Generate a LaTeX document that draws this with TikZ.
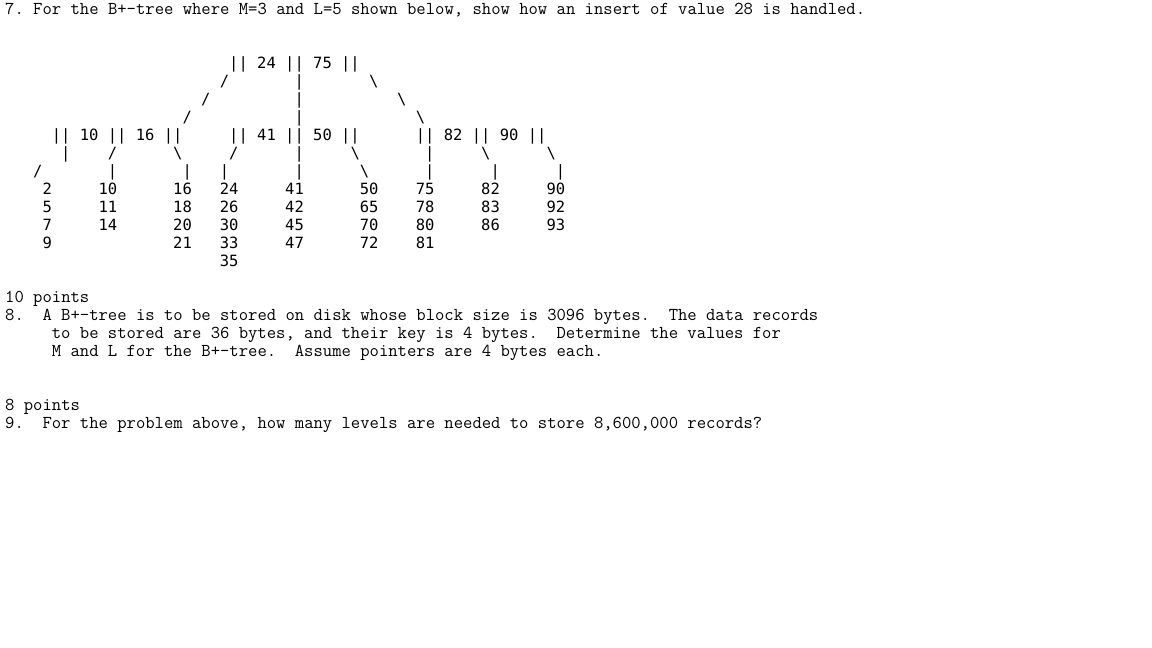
\documentclass[tikz,border=0pt]{standalone}
\usepackage{fontspec}
\newfontfamily\treefont{DejaVu Sans Mono}
\newcommand{\colW}[0]{9.333pt}
\newcommand{\lineH}[0]{18pt}
\newcommand{\textSize}[0]{\fontsize{18.15}{18}\selectfont}
\newcommand{\treeSize}[0]{\fontsize{15.5}{18}\selectfont}
\newcommand{\fs}[0]{/}
\newcommand{\bs}[0]{\textbackslash}
\newcommand{\vb}[0]{|}
\frenchspacing

\begin{document}
\begin{tikzpicture}[x=\colW, y=-\lineH]
  \tikzset{
    line/.style={anchor=base west, inner sep=0pt, font=\ttfamily\textSize},
    tree/.style={anchor=base west, inner sep=0pt, font=\treefont\treeSize}
  }
  \useasboundingbox (0pt,0pt) rectangle (1152pt,-648pt);
  \begin{scope}[shift={(5pt,-14.5pt)}]
  % question 7
  \node[line] (q7) at (0,0) {7. For the B+-tree where M=3 and L=5 shown below, show how an insert of value 28 is handled.};
  % tree nodes
  \node[tree] (root) at (24,3) {|| 24 || 75 ||};
  \node[tree] (int-1) at (5,7) {|| 10 || 16 ||};
  \node[tree] (int-2) at (24,7) {|| 41 || 50 ||};
  \node[tree] (int-3) at (44,7) {|| 82 || 90 ||};
  % branches, one character each
  \foreach \c/\r/\s in {23/4/\fs, 31/4/\vb, 39/4/\bs,
                        21/5/\fs, 31/5/\vb, 42/5/\bs,
                        19/6/\fs, 31/6/\vb, 44/6/\bs,
                        6/8/\vb, 11/8/\fs, 18/8/\bs, 24/8/\fs, 31/8/\vb,
                        37/8/\bs, 45/8/\vb, 51/8/\bs, 58/8/\bs,
                        3/9/\fs, 11/9/\vb, 19/9/\vb, 23/9/\vb, 31/9/\vb,
                        38/9/\bs, 45/9/\vb, 52/9/\vb, 59/9/\vb}
    \node[tree] (br-\r-\c) at (\c,\r) {\s};
  % leaves
  \foreach \c/\keys [count=\n] in {4/{2,5,7,9}, 10/{10,11,14}, 18/{16,18,20,21},
                                   23/{24,26,30,33,35}, 30/{41,42,45,47},
                                   38/{50,65,70,72}, 44/{75,78,80,81},
                                   51/{82,83,86}, 58/{90,92,93}}
    \foreach \k [count=\i] in \keys
      \node[tree] (leaf-\n-\i) at (\c,9+\i) {\k};
  % question 8
  \node[line] (pts-8) at (0,16) {10 points};
  \node[line] (q8-num) at (0,17) {8.};
  \node[line] (q8-a) at (4,17) {A B+-tree is to be stored on disk whose block size is 3096 bytes.~~The data records};
  \node[line] (q8-b) at (5,18) {to be stored are 36 bytes, and their key is 4 bytes.~~Determine the values for};
  \node[line] (q8-c) at (5,19) {M and L for the B+-tree.~~Assume pointers are 4 bytes each.};
  % question 9
  \node[line] (pts-9) at (0,22) {8 points};
  \node[line] (q9-num) at (0,23) {9.};
  \node[line] (q9) at (4,23) {For the problem above, how many levels are needed to store 8,600,000 records?};
  \end{scope}
\end{tikzpicture}
\end{document}
